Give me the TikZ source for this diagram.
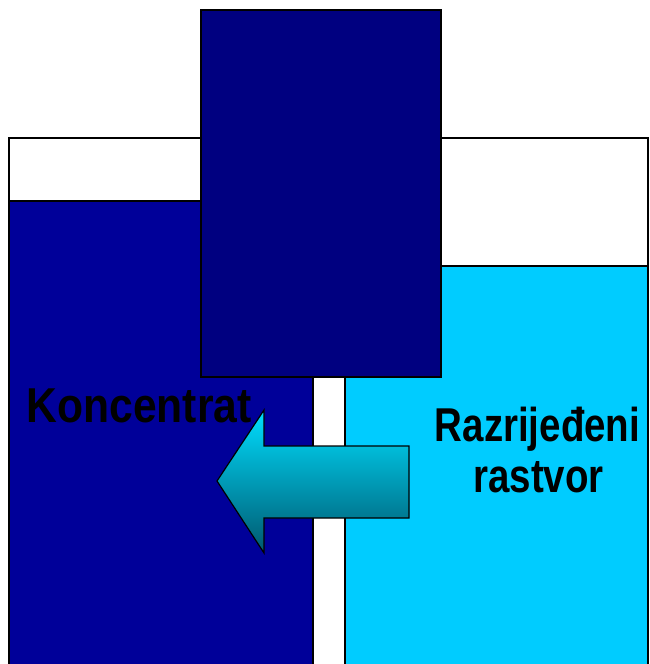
\documentclass[tikz,border=0pt]{standalone}
\usepackage{fontspec}
\setmainfont{Liberation Sans}
\definecolor{concblue}{RGB}{0,0,153}
\definecolor{dilblue}{RGB}{0,204,255}
\definecolor{piston}{RGB}{0,0,128}
\definecolor{arrowtop}{RGB}{0,222,255}
\definecolor{arrowmid}{RGB}{0,168,208}
\definecolor{arrowbot}{RGB}{0,88,110}
\tikzset{
  outline/.style={draw=black, line width=1.6pt},
  lbl/.style={inner sep=0pt, font=\bfseries, text=black},
}
\begin{document}
\begin{tikzpicture}[x=1pt,y=-1pt]
\useasboundingbox (0,0) rectangle (649,664);
\begin{scope}
\clip (0,0) rectangle (649,664);
% left container (concentrate)
\fill[concblue] (9,201) rectangle (313,680);
\draw[outline] (9,680) -- (9,138) -- (313,138) -- (313,680);
\draw[outline] (9,201) -- (313,201);
% right container (dilute)
\fill[dilblue] (345,266) rectangle (648,680);
\draw[outline] (345,680) -- (345,138) -- (648,138) -- (648,680);
\draw[outline] (345,266) -- (648,266);
% piston
\draw[fill=piston, draw=black, line width=1.2pt] (201,10) rectangle (441,377);
% arrow
\path[draw=black, line width=1.2pt, top color=arrowtop, middle color=arrowmid, bottom color=arrowbot]
  (409,446) -- (264,446) -- (264,410) -- (217,481) -- (264,553) -- (264,518) -- (409,518) -- cycle;
\end{scope}
% labels
\node[lbl, anchor=base, font=\bfseries\fontsize{49}{50}\selectfont] (konc) at (139,422)
  {\scalebox{0.87}[1]{Koncentrat}};
\node[lbl, anchor=base, font=\bfseries\fontsize{47.5}{50}\selectfont] (razr) at (537.5,441)
  {\scalebox{0.81}[1]{Razrijeđeni}};
\node[lbl, anchor=base, font=\bfseries\fontsize{47.5}{50}\selectfont] (rast) at (538.5,492)
  {\scalebox{0.81}[1]{rastvor}};
\end{tikzpicture}
\end{document}
